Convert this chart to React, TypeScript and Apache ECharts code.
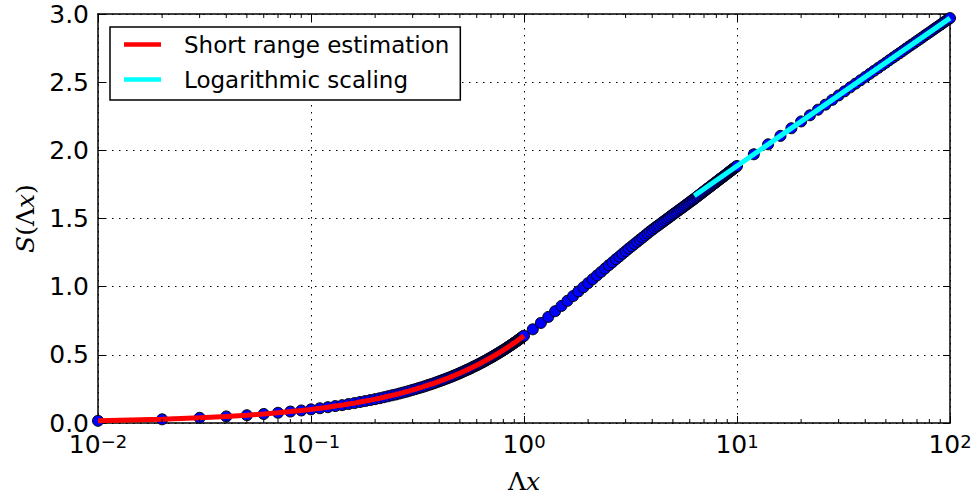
import React, { useEffect, useRef } from 'react';
import * as echarts from 'echarts';

// Dots: short range decade (step 0.01)
const xA1 = [0.01, 0.02, 0.03, 0.04, 0.05, 0.06, 0.07, 0.08, 0.09, 0.1];
const yA1 = [0.016, 0.027, 0.038, 0.048, 0.057, 0.066, 0.075, 0.084, 0.092, 0.1];

const xA2 = [
  0.11, 0.12, 0.13, 0.14, 0.15, 0.16, 0.17, 0.18, 0.19, 0.2,
  0.21, 0.22, 0.23, 0.24, 0.25, 0.26, 0.27, 0.28, 0.29, 0.3,
  0.31, 0.32, 0.33, 0.34, 0.35, 0.36, 0.37, 0.38, 0.39, 0.4,
  0.41, 0.42, 0.43, 0.44, 0.45, 0.46, 0.47, 0.48, 0.49, 0.5,
  0.51, 0.52, 0.53, 0.54, 0.55, 0.56, 0.57, 0.58, 0.59, 0.6,
  0.61, 0.62, 0.63, 0.64, 0.65, 0.66, 0.67, 0.68, 0.69, 0.7,
  0.71, 0.72, 0.73, 0.74, 0.75, 0.76, 0.77, 0.78, 0.79, 0.8,
  0.81, 0.82, 0.83, 0.84, 0.85, 0.86, 0.87, 0.88, 0.89, 0.9,
  0.91, 0.92, 0.93, 0.94, 0.95, 0.96, 0.97, 0.98, 0.99, 1.0,
];
const yA2 = [
  0.108, 0.116, 0.124, 0.131, 0.139, 0.146, 0.154, 0.161, 0.168, 0.175,
  0.182, 0.189, 0.196, 0.203, 0.209, 0.216, 0.223, 0.229, 0.236, 0.243,
  0.249, 0.256, 0.262, 0.268, 0.275, 0.281, 0.287, 0.293, 0.3, 0.306,
  0.312, 0.318, 0.324, 0.33, 0.336, 0.342, 0.348, 0.354, 0.36, 0.366,
  0.372, 0.378, 0.384, 0.39, 0.395, 0.401, 0.407, 0.413, 0.418, 0.424,
  0.43, 0.435, 0.441, 0.447, 0.452, 0.458, 0.464, 0.469, 0.475, 0.48,
  0.486, 0.491, 0.497, 0.502, 0.508, 0.513, 0.519, 0.524, 0.529, 0.535,
  0.54, 0.545, 0.551, 0.556, 0.562, 0.567, 0.572, 0.577, 0.583, 0.588,
  0.593, 0.598, 0.604, 0.609, 0.614, 0.619, 0.625, 0.63, 0.635, 0.64,
];

// Dots: 1..10 (step 0.1)
const xB = [
  1.1, 1.2, 1.3, 1.4, 1.5, 1.6, 1.7, 1.8, 1.9, 2.0,
  2.1, 2.2, 2.3, 2.4, 2.5, 2.6, 2.7, 2.8, 2.9, 3.0,
  3.1, 3.2, 3.3, 3.4, 3.5, 3.6, 3.7, 3.8, 3.9, 4.0,
  4.1, 4.2, 4.3, 4.4, 4.5, 4.6, 4.7, 4.8, 4.9, 5.0,
  5.1, 5.2, 5.3, 5.4, 5.5, 5.6, 5.7, 5.8, 5.9, 6.0,
  6.1, 6.2, 6.3, 6.4, 6.5, 6.6, 6.7, 6.8, 6.9, 7.0,
  7.1, 7.2, 7.3, 7.4, 7.5, 7.6, 7.7, 7.8, 7.9, 8.0,
  8.1, 8.2, 8.3, 8.4, 8.5, 8.6, 8.7, 8.8, 8.9, 9.0,
  9.1, 9.2, 9.3, 9.4, 9.5, 9.6, 9.7, 9.8, 9.9, 10.0,
];
const yB = [
  0.687, 0.734, 0.778, 0.82, 0.859, 0.896, 0.931, 0.965, 0.996, 1.026,
  1.055, 1.082, 1.108, 1.133, 1.157, 1.179, 1.201, 1.221, 1.241, 1.26,
  1.279, 1.296, 1.313, 1.329, 1.345, 1.36, 1.375, 1.39, 1.404, 1.417,
  1.43, 1.442, 1.453, 1.465, 1.476, 1.487, 1.498, 1.508, 1.519, 1.529,
  1.539, 1.548, 1.558, 1.567, 1.576, 1.585, 1.594, 1.603, 1.611, 1.62,
  1.628, 1.636, 1.644, 1.652, 1.661, 1.668, 1.676, 1.684, 1.692, 1.699,
  1.707, 1.714, 1.721, 1.728, 1.735, 1.742, 1.749, 1.756, 1.762, 1.769,
  1.775, 1.782, 1.788, 1.794, 1.8, 1.806, 1.812, 1.818, 1.824, 1.83,
  1.836, 1.842, 1.847, 1.853, 1.858, 1.864, 1.869, 1.874, 1.88, 1.885,
];

// Dots: 10..100 (step 2)
const xC = [
  12, 14, 16, 18, 20, 22, 24, 26, 28, 30,
  32, 34, 36, 38, 40, 42, 44, 46, 48, 50,
  52, 54, 56, 58, 60, 62, 64, 66, 68, 70,
  72, 74, 76, 78, 80, 82, 84, 86, 88, 90,
  92, 94, 96, 98, 100,
];
const yC = [
  1.971, 2.044, 2.106, 2.162, 2.212, 2.257, 2.298, 2.335, 2.37, 2.403,
  2.433, 2.462, 2.489, 2.514, 2.538, 2.561, 2.583, 2.604, 2.624, 2.643,
  2.662, 2.68, 2.697, 2.713, 2.729, 2.745, 2.76, 2.774, 2.788, 2.802,
  2.815, 2.828, 2.841, 2.853, 2.865, 2.876, 2.888, 2.899, 2.91, 2.92,
  2.931, 2.941, 2.951, 2.96, 2.97,
];

// Logarithmic scaling line
const cyanX = [6.3, 10, 100];
const cyanY = [1.667, 1.885, 2.97];

// Minor tick positions on the log axis
const minorTicks = [
  0.02, 0.03, 0.04, 0.05, 0.06, 0.07, 0.08, 0.09,
  0.2, 0.3, 0.4, 0.5, 0.6, 0.7, 0.8, 0.9,
  2, 3, 4, 5, 6, 7, 8, 9,
  20, 30, 40, 50, 60, 70, 80, 90,
];

const yTicks = [0, 0.5, 1, 1.5, 2, 2.5, 3];

const SERIES_RED = 'Short range estimation';
const SERIES_CYAN = 'Logarithmic scaling';

const pairs = (xs: number[], ys: number[]) => xs.map((x, i) => [x, ys[i]]);

export default function App() {
  const ref = useRef<HTMLDivElement>(null);
  useEffect(() => {
    const chart = echarts.init(ref.current!, null, { renderer: 'svg' });
    const font = 'DejaVu Sans';
    const serif = 'DejaVu Serif';
    const dots = [...pairs(xA1, yA1), ...pairs(xA2, yA2), ...pairs(xB, yB), ...pairs(xC, yC)];
    const red = [...pairs(xA1, yA1), ...pairs(xA2, yA2)];
    const cyan = pairs(cyanX, cyanY);
    const frameLine = { show: true, onZero: false, lineStyle: { color: '#000', width: 1.5 } };
    const tick = { show: true, inside: true, length: 7, lineStyle: { color: '#000', width: 1 } };
    const grid = { show: true, lineStyle: { color: '#000', width: 1, type: [1.5, 5.5] } };
    const mathRich = {
      n: { fontFamily: serif, fontSize: 25, color: '#000' },
      i: { fontFamily: serif, fontSize: 25, color: '#000', fontStyle: 'italic' },
    };
    chart.setOption({
      animation: false,
      backgroundColor: '#fff',
      grid: { left: 98, right: 30, top: 14, bottom: 74 },
      legend: {
        data: [SERIES_RED, SERIES_CYAN],
        orient: 'vertical',
        left: 110,
        top: 27,
        padding: [6, 11, 9, 14],
        itemGap: 12,
        itemWidth: 37,
        itemHeight: 4.5,
        icon: 'rect',
        borderColor: '#000',
        borderWidth: 1.5,
        borderRadius: 0,
        backgroundColor: '#fff',
        selectedMode: false,
        textStyle: { fontFamily: font, fontSize: 23, color: '#000', padding: [0, 0, 0, 18] },
      },
      xAxis: [
        {
          type: 'log',
          logBase: 10,
          min: 0.01,
          max: 100,
          position: 'bottom',
          axisLine: frameLine,
          axisTick: tick,
          splitLine: grid,
          axisLabel: {
            margin: 9,
            formatter: (v: number) => {
              const e = Math.round(Math.log10(v));
              return `{b|10}{s|${e < 0 ? '\u2212' + -e : e}}`;
            },
            rich: {
              b: { fontFamily: font, fontSize: 25, lineHeight: 25, color: '#000' },
              s: { fontFamily: font, fontSize: 18, lineHeight: 12, verticalAlign: 'top', color: '#000' },
            },
          },
          name: '{n|\u039B}{i|x}',
          nameLocation: 'middle',
          nameGap: 46,
          nameTextStyle: { rich: mathRich },
        },
        {
          type: 'log',
          logBase: 10,
          min: 0.01,
          max: 100,
          position: 'top',
          axisLine: frameLine,
          axisTick: tick,
          splitLine: { show: false },
          axisLabel: { show: false },
        },
      ],
      yAxis: [
        {
          type: 'value',
          min: yTicks[0],
          max: yTicks[yTicks.length - 1],
          interval: 0.5,
          position: 'left',
          axisLine: frameLine,
          axisTick: tick,
          splitLine: grid,
          axisLabel: {
            margin: 9,
            fontFamily: font,
            fontSize: 25,
            lineHeight: 18,
            color: '#000',
            formatter: (v: number) => v.toFixed(1),
          },
          name: '{i|S}{n|(\u039B}{i|x}{n|)}',
          nameLocation: 'middle',
          nameRotate: 90,
          nameGap: 60,
          nameTextStyle: { rich: mathRich },
        },
        {
          type: 'value',
          min: yTicks[0],
          max: yTicks[yTicks.length - 1],
          interval: 0.5,
          position: 'right',
          axisLine: frameLine,
          axisTick: tick,
          splitLine: { show: false },
          axisLabel: { show: false },
        },
      ],
      series: [
        {
          type: 'scatter',
          name: 'data',
          data: dots,
          symbol: 'circle',
          symbolSize: 11,
          itemStyle: { color: '#0000ff', borderColor: '#000', borderWidth: 1, opacity: 1 },
          silent: true,
          z: 2,
        },
        {
          type: 'line',
          name: SERIES_RED,
          data: red,
          color: '#ff0000',
          showSymbol: false,
          symbol: 'none',
          lineStyle: { color: '#ff0000', width: 5 },
          silent: true,
          z: 3,
        },
        {
          type: 'line',
          name: SERIES_CYAN,
          data: cyan,
          color: '#00ffff',
          showSymbol: false,
          symbol: 'none',
          lineStyle: { color: '#00ffff', width: 5 },
          silent: true,
          z: 3,
        },
        {
          type: 'custom',
          name: 'minor',
          data: minorTicks.map((v) => [v, 0]),
          silent: true,
          z: 4,
          renderItem: (params: any, api: any) => {
            const p = api.coord([api.value(0), 0]);
            const cs = params.coordSys;
            const top = cs.y;
            const bottom = cs.y + cs.height;
            return {
              type: 'group',
              children: [
                { type: 'line', shape: { x1: p[0], y1: bottom, x2: p[0], y2: bottom - 4 }, style: { stroke: '#000', lineWidth: 1 } },
                { type: 'line', shape: { x1: p[0], y1: top, x2: p[0], y2: top + 4 }, style: { stroke: '#000', lineWidth: 1 } },
              ],
            };
          },
        },
      ],
    });
    return () => chart.dispose();
  }, []);
  return (
    <div
      ref={ref}
      style={{ position: 'absolute', left: 0, top: 0, width: 980, height: 499, background: '#fff' }}
    />
  );
}
